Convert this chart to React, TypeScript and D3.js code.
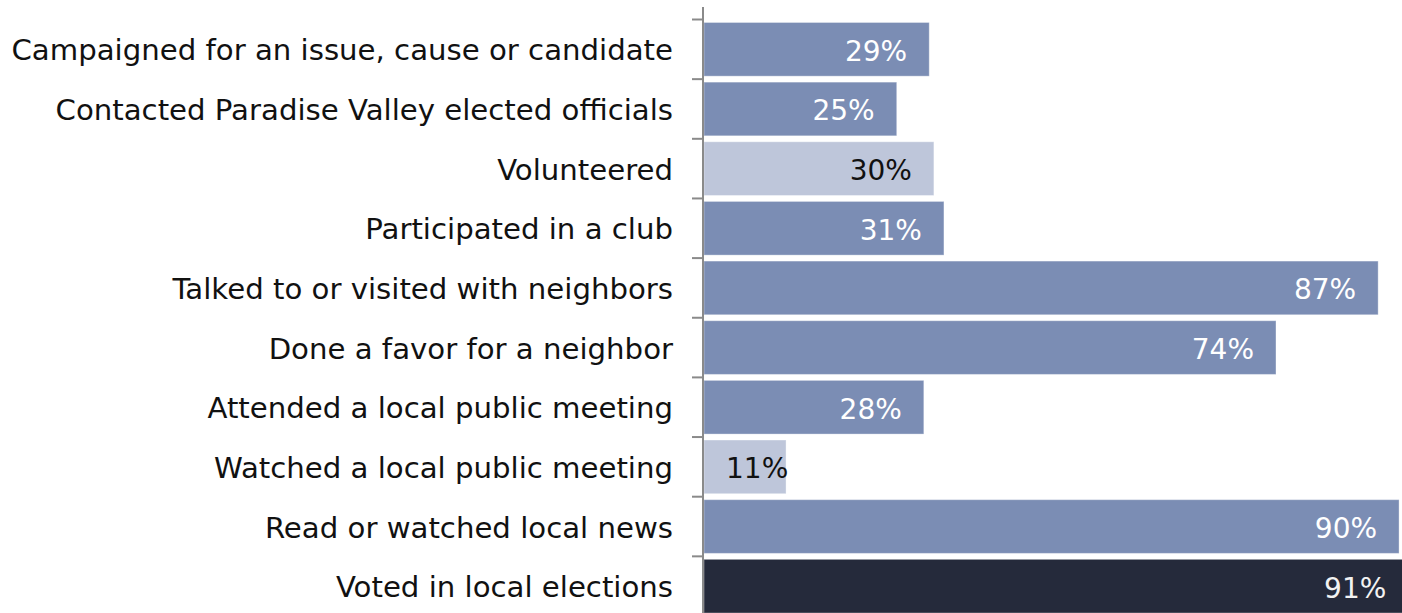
import React from "react";
import * as d3 from "d3";

const categories = [
  "Campaigned for an issue, cause or candidate",
  "Contacted Paradise Valley elected officials",
  "Volunteered",
  "Participated in a club",
  "Talked to or visited with neighbors",
  "Done a favor for a neighbor",
  "Attended a local public meeting",
  "Watched a local public meeting",
  "Read or watched local news",
  "Voted in local elections",
];
const values = [29.1, 24.9, 29.7, 31.0, 87.1, 73.9, 28.4, 10.6, 89.8, 91.0];
const tones = ["mid", "mid", "light", "mid", "mid", "mid", "mid", "light", "mid", "dark"];

const W = 1402;
const H = 613;
const fill: Record<string, string> = { mid: "#7b8db4", light: "#bec6da", dark: "#252a3b" };
const textFill: Record<string, string> = { mid: "#ffffff", light: "#111111", dark: "#f2f2f2" };
const FONT = "'DejaVu Sans', sans-serif";

export default function App() {
  const x = d3.scaleLinear().domain([0, 100]).range([704, 1478]);
  const y = d3.scaleBand<string>().domain(categories).range([19.5, 616]).padding(0);
  const step = y.step();
  const axisX = 703;

  return (
    <svg
      width={W}
      height={H}
      style={{ position: "absolute", left: 0, top: 0, display: "block", background: "#fff" }}
    >
      {categories.map((c, i) => {
        const y0 = y(c)!;
        const top = y0 + step * 0.05;
        const h = step * 0.9;
        const end = x(values[i]);
        const cy = y0 + step / 2;
        const label = `${Math.round(values[i])}%`;
        const inside = end - 22 - 60 >= x(0) + 22;
        return (
          <g key={c}>
            <rect
              x={x(0)}
              y={top}
              width={end - x(0)}
              height={h}
              fill={fill[tones[i]]}
              stroke="rgba(255,255,255,0.35)"
              strokeWidth={1}
            />
            <text
              x={inside ? end - 22 : x(0) + 22}
              y={cy + 11.5}
              textAnchor={inside ? "end" : "start"}
              fontFamily={FONT}
              fontSize={28}
              fill={textFill[tones[i]]}
            >
              {label}
            </text>
            <text
              x={673}
              y={cy + 11}
              textAnchor="end"
              fontFamily={FONT}
              fontSize={29.2}
              fill="#111"
            >
              {c}
            </text>
          </g>
        );
      })}
      <line x1={axisX} x2={axisX} y1={7} y2={H} stroke="#8a8a8a" strokeWidth={2} />
      {d3.range(categories.length).map((i) => {
        const ty = y(categories[i])!;
        return <line key={i} x1={692} x2={axisX} y1={ty} y2={ty} stroke="#8a8a8a" strokeWidth={2} />;
      })}
    </svg>
  );
}
